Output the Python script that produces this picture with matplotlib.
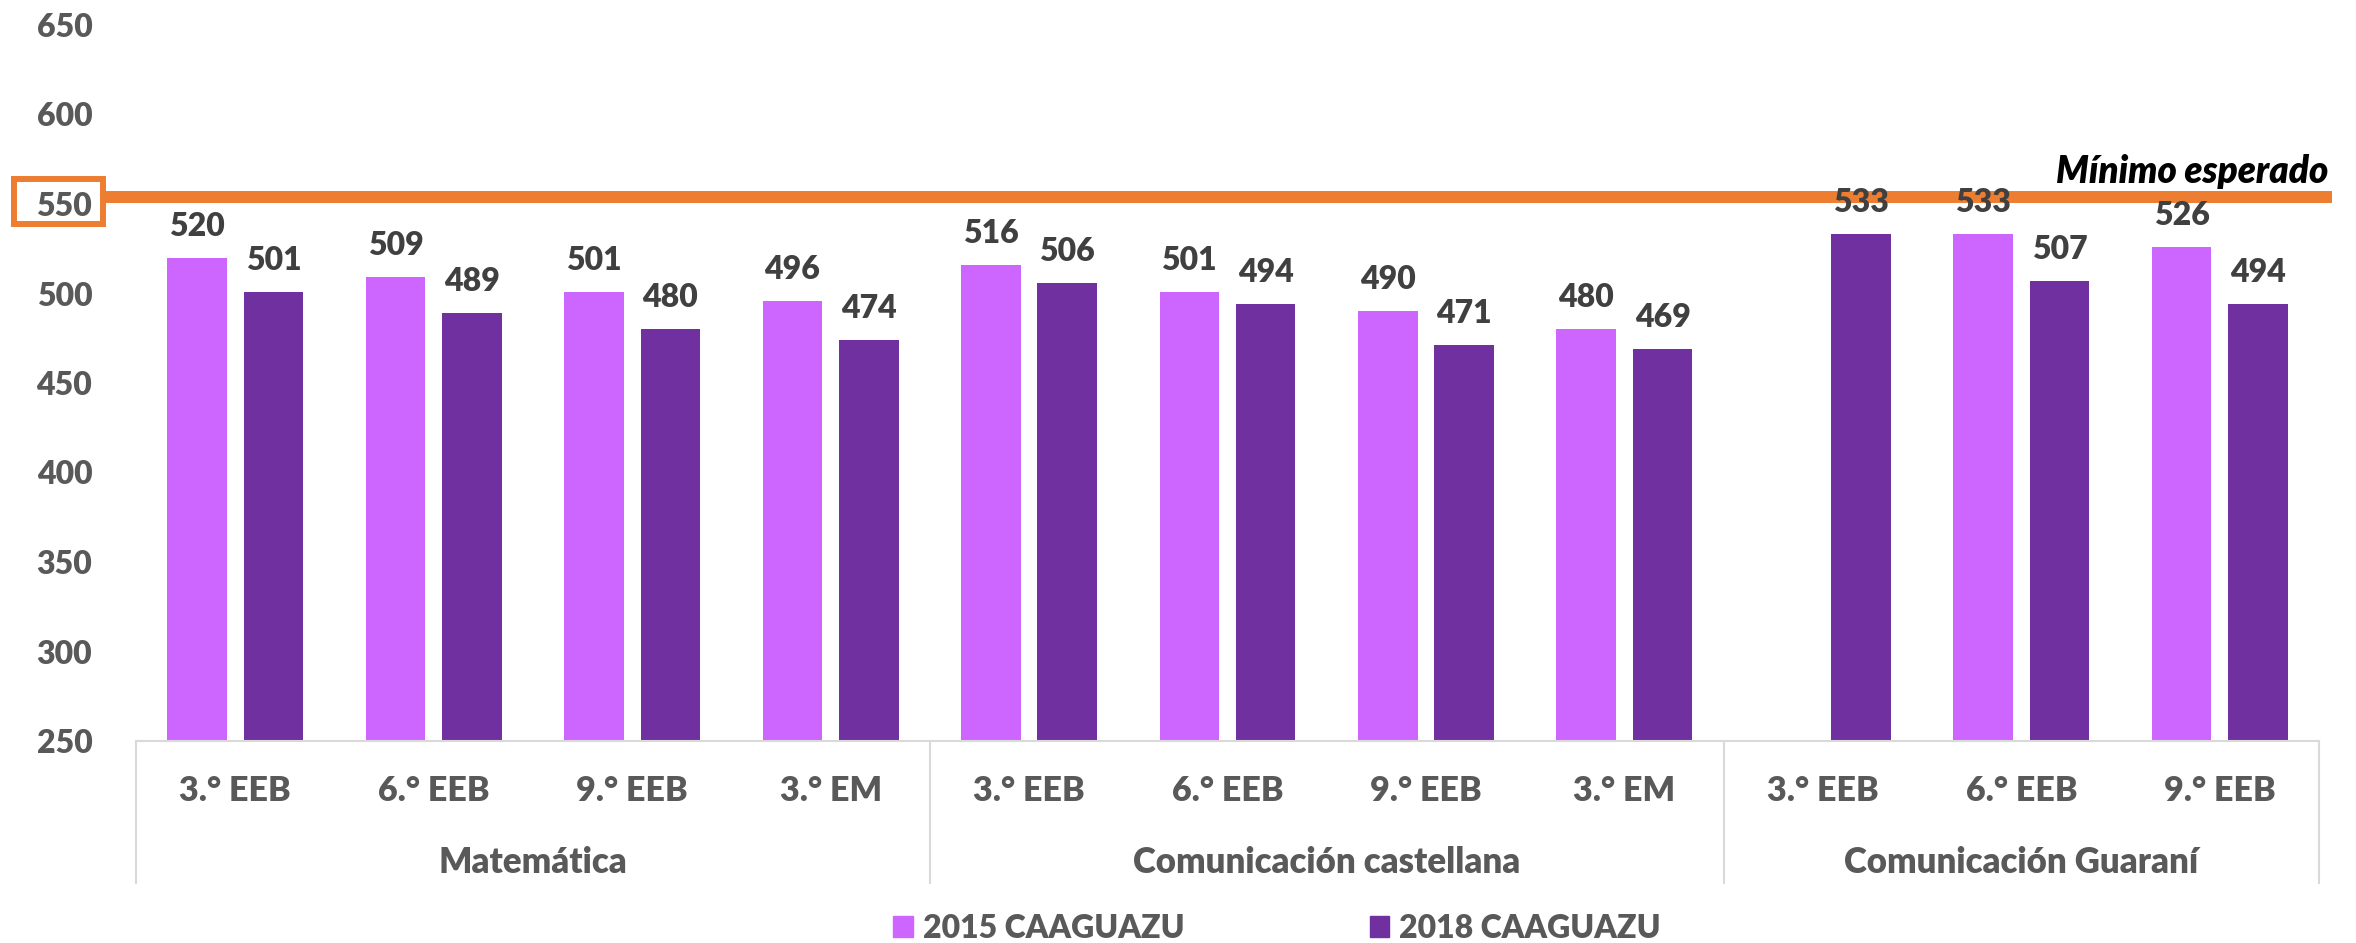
import numpy as np
import matplotlib
matplotlib.use("Agg")
import matplotlib.pyplot as plt
from matplotlib.transforms import blended_transform_factory
from matplotlib.patches import Rectangle, Patch

plt.rcParams['font.family'] = ['Lato', 'DejaVu Sans']

# ---- data ----
groups = ["Matemática", "Comunicación castellana", "Comunicación Guaraní"]
group_sizes = [4, 4, 3]
categories = ["3.° EEB", "6.° EEB", "9.° EEB", "3.° EM",
              "3.° EEB", "6.° EEB", "9.° EEB", "3.° EM",
              "3.° EEB", "6.° EEB", "9.° EEB"]
values_2015 = [520, 509, 501, 496, 516, 501, 490, 480, np.nan, 533, 526]
values_2018 = [501, 489, 480, 474, 506, 494, 471, 469, 533, 507, 494]
series_names = ["2015 CAAGUAZU", "2018 CAAGUAZU"]
minimum_expected = 554
minimum_label = "Mínimo esperado"
yticks = [250, 300, 350, 400, 450, 500, 550, 600, 650]

# ---- style ----
c2015 = "#CC66FF"
c2018 = "#7030A0"
orange = "#ED7D31"
tick_color = "#595959"
label_color = "#404040"
grid_color = "#D9D9D9"
fs = 23
fs_cat = 24.5
fw = "heavy"

W, H = 2356, 943
fig = plt.figure(figsize=(W / 100, H / 100), dpi=100)
ax = fig.add_axes([136 / W, 1 - 741 / H, (2319 - 136) / W, (741 - 25) / H])

x = np.arange(len(categories))
bw = 0.30
off = 0.1925
ax.bar(x - off, values_2015, bw, color=c2015, zorder=2)
ax.bar(x + off, values_2018, bw, color=c2018, zorder=2)

for xs, vals in ((x - off, values_2015), (x + off, values_2018)):
    for xi, v in zip(xs, vals):
        if np.isnan(v):
            continue
        ax.annotate(f"{v:.0f}", xy=(xi, v), xytext=(0, 15.8), textcoords="offset points",
                    ha="center", va="baseline", fontsize=fs, fontweight=fw,
                    color=label_color, zorder=5)

ax.set_xlim(-0.5, len(categories) - 0.5)
ax.set_ylim(yticks[0], yticks[-1])
ax.set_yticks(yticks)
ax.set_yticklabels([str(t) for t in yticks], fontsize=fs, fontweight=fw, color=tick_color)
ax.tick_params(axis="y", length=0, pad=31.5)
ax.set_xticks([])
for s in ("top", "right", "left"):
    ax.spines[s].set_visible(False)
ax.spines["bottom"].set_color(grid_color)
ax.spines["bottom"].set_linewidth(1.5)

bt = blended_transform_factory(ax.transData, ax.transAxes)
# category labels
for xi, c in zip(x, categories):
    ax.annotate(c, xy=(xi, 0), xycoords=bt, xytext=(0, -43.2), textcoords="offset points",
                ha="center", va="baseline", fontsize=fs_cat, fontweight=fw,
                color=tick_color, annotation_clip=False)
# group labels and separators
edges = np.concatenate([[0], np.cumsum(group_sizes)]) - 0.5
sep_len = 142 / 716
for e in edges:
    ax.plot([e, e], [0, -sep_len], transform=bt, color=grid_color, lw=1.5, clip_on=False)
for g, a, b in zip(groups, edges[:-1], edges[1:]):
    ax.annotate(g, xy=((a + b) / 2, 0), xycoords=bt, xytext=(0, -95), textcoords="offset points",
                ha="center", va="baseline", fontsize=fs_cat + 0.5, fontweight=fw,
                color=tick_color, annotation_clip=False)

# minimum expected line
ft = blended_transform_factory(fig.transFigure, ax.transData)
ax.plot([105 / W, 2332 / W], [minimum_expected, minimum_expected], transform=ft,
        color=orange, lw=8.6, solid_capstyle="butt", clip_on=False, zorder=3)
ax.annotate(minimum_label, xy=(2328 / W, minimum_expected), xycoords=ft,
            xytext=(0, 10), textcoords="offset points", ha="right", va="baseline",
            fontsize=fs + 3.5, fontweight=fw, fontstyle="italic", color="black",
            annotation_clip=False, zorder=6)
# box around 550 tick label
ax.add_patch(Rectangle((13.5 / W, 539.1), (102.5 - 13.5) / W, 24.6, transform=ft,
                       fill=False, edgecolor=orange, lw=4.3, clip_on=False, zorder=3))

# legend
handles = [Patch(color=c2015), Patch(color=c2018)]
leg = fig.legend(handles, series_names, loc="center", bbox_to_anchor=(1277 / W, 1 - 928 / H),
                 ncol=2, frameon=False, handlelength=0.62, handleheight=0.62,
                 handletextpad=0.3, columnspacing=5.8,
                 prop=dict(size=fs, weight=fw))
for t in leg.get_texts():
    t.set_color(tick_color)

fig.savefig("out.png", dpi=100)
